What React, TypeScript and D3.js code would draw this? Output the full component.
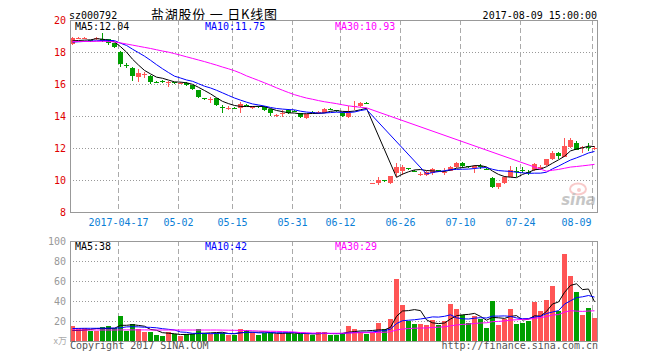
import React from 'react';
import * as d3 from 'd3';

const dates = [
  '2017-04-05','2017-04-06','2017-04-07','2017-04-10','2017-04-11','2017-04-12','2017-04-13','2017-04-14','2017-04-17','2017-04-18',
  '2017-04-19','2017-04-20','2017-04-21','2017-04-24','2017-04-25','2017-04-26','2017-04-27','2017-04-28','2017-05-02','2017-05-03',
  '2017-05-04','2017-05-05','2017-05-08','2017-05-09','2017-05-10','2017-05-11','2017-05-12','2017-05-15','2017-05-16','2017-05-17',
  '2017-05-18','2017-05-19','2017-05-22','2017-05-23','2017-05-24','2017-05-25','2017-05-26','2017-05-31','2017-06-01','2017-06-02',
  '2017-06-05','2017-06-06','2017-06-07','2017-06-08','2017-06-09','2017-06-12','2017-06-13','2017-06-14','2017-06-15','2017-06-16',
  '2017-06-19','2017-06-20','2017-06-21','2017-06-22','2017-06-23','2017-06-26','2017-06-27','2017-06-28','2017-06-29','2017-06-30',
  '2017-07-03','2017-07-04','2017-07-05','2017-07-06','2017-07-07','2017-07-10','2017-07-11','2017-07-12','2017-07-13','2017-07-14',
  '2017-07-17','2017-07-18','2017-07-19','2017-07-20','2017-07-21','2017-07-24','2017-07-25','2017-07-26','2017-07-27','2017-07-28',
  '2017-07-31','2017-08-01','2017-08-02','2017-08-03','2017-08-04','2017-08-07','2017-08-08','2017-08-09',
];

const opens = [
  18.50,18.84,18.84,18.73,18.82,18.83,18.79,18.54,18.02,17.17,
  17.02,16.42,16.63,16.50,16.15,16.17,16.13,16.10,16.06,16.08,
  15.92,15.62,15.10,15.02,15.12,14.56,14.48,14.52,14.50,14.69,
  14.52,14.60,14.58,14.42,14.04,14.15,14.38,14.33,14.17,13.85,
  14.25,14.21,14.21,14.46,14.35,14.21,13.92,14.60,14.62,14.81,
  9.77,9.79,9.98,9.83,10.46,10.54,10.75,10.56,10.35,10.31,
  10.42,10.60,10.50,10.58,10.79,11.04,10.85,10.73,10.85,10.69,
  10.15,9.54,9.79,10.21,10.54,10.60,10.48,10.63,10.81,10.94,
  11.29,11.71,11.46,12.04,12.29,12.02,12.06,11.96,
];
const highs = [
  18.94,18.94,18.94,18.78,18.94,19.17,18.83,18.58,18.08,17.30,
  17.05,16.92,16.78,16.55,16.20,16.25,16.20,16.15,16.15,16.12,
  15.95,15.65,15.15,15.21,15.15,14.69,14.60,14.56,14.90,14.75,
  14.62,14.65,14.62,14.45,14.15,14.38,14.42,14.40,14.20,14.15,
  14.30,14.30,14.50,14.48,14.40,14.25,14.60,14.94,14.87,14.87,
  9.83,10.21,10.02,10.27,11.04,10.94,10.75,10.60,10.48,10.56,
  10.73,10.65,10.73,10.87,11.10,11.15,10.90,10.92,11.00,10.73,
  10.20,9.81,10.23,10.88,10.83,10.79,10.60,11.04,10.96,11.33,
  11.83,11.73,12.60,12.60,12.46,12.13,12.29,12.10,
];
const lows = [
  18.42,18.80,18.80,18.65,18.78,18.65,18.46,18.23,17.08,17.00,
  16.20,16.15,16.38,16.00,16.05,16.08,15.80,16.00,16.00,15.88,
  15.62,15.15,15.00,14.83,14.65,14.17,14.40,14.44,14.20,14.60,
  14.42,14.50,14.33,14.00,13.92,13.96,14.15,14.25,13.88,13.80,
  14.17,14.15,14.17,14.38,14.27,13.96,13.88,14.38,14.58,14.73,
  9.73,9.69,9.90,9.73,10.21,10.31,10.60,10.48,10.27,10.27,
  10.33,10.52,10.31,10.54,10.75,10.73,10.75,10.46,10.67,10.60,
  9.52,9.46,9.75,10.19,10.21,10.46,10.30,10.58,10.60,10.90,
  11.27,11.29,11.42,12.00,11.85,11.71,11.83,11.88,
];
const closes = [
  18.86,18.86,18.86,18.71,18.86,18.71,18.54,18.33,17.23,17.15,
  16.50,16.71,16.65,16.15,16.13,16.15,16.15,16.08,16.08,15.92,
  15.67,15.21,15.08,15.04,14.71,14.54,14.50,14.50,14.75,14.67,
  14.54,14.58,14.38,14.17,14.06,14.17,14.21,14.31,13.92,14.12,
  14.23,14.23,14.46,14.42,14.33,14.00,14.17,14.62,14.83,14.79,
  9.79,10.00,9.96,10.25,10.83,10.79,10.73,10.54,10.38,10.52,
  10.67,10.58,10.52,10.83,11.08,10.88,10.83,10.88,10.83,10.67,
  9.58,9.79,10.21,10.63,10.52,10.58,10.46,11.00,10.83,11.29,
  11.67,11.50,12.13,12.50,11.88,12.04,12.04,11.98,
];
const volumes = [
  15.3,13.3,13.3,10.3,10.3,14.3,15.3,13.3,25.3,10.3,
  17.3,11.7,9.3,9.3,6.0,5.3,9.0,6.7,5.3,6.7,
  7.0,12.3,7.7,7.0,8.3,8.3,6.0,6.3,12.3,11.0,
  8.3,6.3,8.3,8.3,7.0,8.3,8.3,7.0,7.0,7.0,
  6.3,9.0,8.7,6.3,6.3,7.7,15.0,12.0,9.3,7.0,
  9.3,18,12,22,62,36,20,17,17,16,
  21,16,20,37,32,26,18,25,22,13,
  40,16,22,32,17,18,20,39,30,41,
  55,30,87,65,49,26,33,23,
];

// Moving-average values for the first days, whose windows reach back before the visible data
const priceMA5Lead = [18.70, 18.72, 18.74, 18.76];
const priceMA10Lead = [18.62, 18.64, 18.66, 18.68, 18.70, 18.72, 18.73, 18.71, 18.55];
const priceMA30Lead = [
  18.66, 18.66, 18.66, 18.66, 18.67, 18.67, 18.66, 18.63, 18.57, 18.50,
  18.43, 18.36, 18.29, 18.22, 18.14, 18.06, 17.99, 17.90, 17.80, 17.70,
  17.60, 17.50, 17.40, 17.29, 17.18, 17.06, 16.95, 16.83, 16.68,
];
const volMA5Lead = [10.5, 10.5, 11.0, 11.5];
const volMA10Lead = [12.5, 12.6, 12.7, 12.7, 12.7, 12.8, 12.8, 12.9, 13.2];
const volMA30Lead = [
  11.0, 11.0, 11.0, 11.0, 11.0, 11.0, 11.0, 11.0, 11.1, 11.1,
  11.1, 11.1, 11.1, 11.0, 11.0, 11.0, 11.0, 11.0, 11.0, 11.0,
  11.0, 11.0, 11.0, 11.0, 11.0, 10.9, 10.8, 10.7, 10.6,
];

const priceTicks = [8, 10, 12, 14, 16, 18, 20];
const volumeTicks = [20, 40, 60, 80, 100];
const tickDates = ['2017-04-17','2017-05-02','2017-05-15','2017-05-31','2017-06-12','2017-06-26','2017-07-10','2017-07-24','2017-08-09'];
const tickLabels = ['2017-04-17','05-02','05-15','05-31','06-12','06-26','07-10','07-24','08-09'];
const exRightDate = '2017-06-19';
const maPeriods = [5, 10, 30];
const priceLegend = ['MA5:12.04', 'MA10:11.75', 'MA30:10.93'];
const volumeLegend = ['MA5:38', 'MA10:42', 'MA30:29'];
const stockCode = 'sz000792';
const title = '盐湖股份 一 日K线图';
const timestamp = '2017-08-09 15:00:00';
const copyright = 'Copyright 2017 SINA.COM';
const siteUrl = 'http://finance.sina.com.cn';

const MONO = '"DejaVu Sans Mono", "Liberation Mono", monospace';
const RED = '#ff5555';
const GREEN = '#009f00';
const MA_COLORS = ['#000000', '#0000ff', '#ff00ff'];
const LEGEND_X = [75, 205, 335];

const L = 70, R = 597;
const PT = 20, PB = 212;
const VT = 241, VB = 341;

function movingAverage(values: number[], n: number, resetAt: number, lead: number[]) {
  return values.map((_, i) => {
    const segStart = resetAt >= 0 && i >= resetAt ? resetAt : 0;
    const from = i - n + 1;
    if (from < segStart) {
      if (segStart > 0) return null;
      return lead[i] ?? null;
    }
    return d3.mean(values.slice(from, i + 1)) as number;
  });
}

export default function App() {
  const x = d3.scaleBand<string>().domain(dates).range([L, L + 6 * dates.length]).paddingInner(0).paddingOuter(0);
  const yP = d3.scaleLinear().domain([8, 20]).range([PB, PT]);
  const yV = d3.scaleLinear().domain([0, 100]).range([VB, VT]);
  const gap = dates.indexOf(exRightDate);
  const cx = (i: number) => (x(dates[i]) as number) + 2.5;

  const priceLeads = [priceMA5Lead, priceMA10Lead, priceMA30Lead];
  const volLeads = [volMA5Lead, volMA10Lead, volMA30Lead];
  const priceMAs = maPeriods.map((n, k) => movingAverage(closes, n, gap, priceLeads[k]));
  const volMAs = maPeriods.map((n, k) => movingAverage(volumes, n, -1, volLeads[k]));

  const lineP = d3.line<[number, number]>().x((d) => d[0]).y((d) => d[1]);
  const toPts = (arr: (number | null)[], y: (v: number) => number) =>
    arr.map((v, i) => (v == null ? null : [cx(i), y(v)] as [number, number])).filter((p) => p != null) as [number, number][];

  const isUp = (i: number) => closes[i] >= opens[i];

  return (
    <svg width={660} height={360} style={{ position: 'absolute', left: 0, top: 0, background: '#fff' }}>
      <rect x={0} y={0} width={660} height={360} fill="#fff" />
      {/* header */}
      <text x={69} y={19} fontFamily={MONO} fontSize={10} fill="#000">{stockCode}</text>
      <text x={151} y={18.5} fontFamily='"Noto Sans CJK SC", sans-serif' fontSize={13} fill="#000" textLength={126} lengthAdjust="spacing">{title}</text>
      <text x={597} y={19} fontFamily={MONO} fontSize={10} fill="#000" textAnchor="end">{timestamp}</text>

      {/* horizontal grid */}
      {priceTicks.filter((t) => t > 8 && t < 20).map((t) => (
        <line key={'pg' + t} x1={L} x2={R} y1={Math.round(yP(t)) + 0.5} y2={Math.round(yP(t)) + 0.5} stroke="#999" strokeDasharray="1,2" />
      ))}
      {volumeTicks.filter((t) => t < 100).map((t) => (
        <line key={'vg' + t} x1={L} x2={R} y1={Math.round(yV(t)) + 0.5} y2={Math.round(yV(t)) + 0.5} stroke="#999" strokeDasharray="1,2" />
      ))}
      {/* vertical dashed */}
      {tickDates.map((d) => {
        const xx = (x(d) as number) + 0.5;
        return (
          <g key={'vd' + d}>
            <line x1={xx} x2={xx} y1={PT} y2={PB} stroke="#aaa" strokeDasharray="5,3" />
            <line x1={xx} x2={xx} y1={VT} y2={VB} stroke="#aaa" strokeDasharray="5,3" />
          </g>
        );
      })}

      {/* watermark */}
      <g opacity={0.55}>
        <ellipse cx={578} cy={189} rx={8} ry={5.5} fill="none" stroke="#f4a0a0" strokeWidth={2} />
        <circle cx={579} cy={190} r={2} fill="#f4a0a0" />
        <text x={596} y={205} fontFamily='"DejaVu Sans", sans-serif' fontSize={15} fontWeight="bold" fontStyle="italic" fill="#999" textAnchor="end">sina</text>
      </g>

      {/* candles */}
      {dates.map((d, i) => {
        const xl = x(d) as number;
        const col = isUp(i) ? RED : GREEN;
        const top = Math.round(yP(Math.max(opens[i], closes[i])));
        const bot = Math.round(yP(Math.min(opens[i], closes[i])));
        return (
          <g key={'c' + d}>
            <rect x={xl + 2} y={Math.round(yP(highs[i]))} width={1} height={Math.max(1, Math.round(yP(lows[i])) - Math.round(yP(highs[i])))} fill={col} />
            <rect x={xl} y={top} width={5} height={Math.max(1, bot - top)} fill={col} />
          </g>
        );
      })}
      {priceMAs.map((arr, k) => (
        <path key={'pma' + k} d={lineP(toPts(arr, yP)) || ''} fill="none" stroke={MA_COLORS[k]} strokeWidth={1} />
      ))}

      {/* volume bars */}
      {dates.map((d, i) => {
        const xl = x(d) as number;
        const top = Math.round(yV(volumes[i]));
        return <rect key={'v' + d} x={xl} y={top} width={5} height={VB - top} fill={isUp(i) ? RED : GREEN} />;
      })}
      {volMAs.map((arr, k) => (
        <path key={'vma' + k} d={lineP(toPts(arr, yV)) || ''} fill="none" stroke={MA_COLORS[k]} strokeWidth={1} />
      ))}

      {/* borders */}
      <rect x={L + 0.5} y={PT + 0.5} width={R - L} height={PB - PT} fill="none" stroke="#999" />
      <rect x={L + 0.5} y={VT + 0.5} width={R - L} height={VB - VT} fill="none" stroke="#999" />

      {/* legends */}
      {priceLegend.map((t, k) => (
        <text key={'pl' + k} x={LEGEND_X[k]} y={30} fontFamily={MONO} fontSize={10} fill={MA_COLORS[k]}>{t}</text>
      ))}
      {volumeLegend.map((t, k) => (
        <text key={'vl' + k} x={LEGEND_X[k]} y={250} fontFamily={MONO} fontSize={10} fill={MA_COLORS[k]}>{t}</text>
      ))}

      {/* price axis labels */}
      {priceTicks.map((t) => (
        <text key={'pt' + t} x={66} y={yP(t)} dy="0.35em" fontFamily={MONO} fontSize={10} fill="#e00000" textAnchor="end">{t}</text>
      ))}
      {/* volume axis labels */}
      {volumeTicks.map((t) => (
        <text key={'vt' + t} x={66} y={yV(t)} dy="0.35em" fontFamily={MONO} fontSize={10} fill="#999" textAnchor="end">{t}</text>
      ))}
      <text x={67} y={VB} dy="0.3em" fontFamily='"Noto Sans CJK SC", sans-serif' fontSize={9} fill="#aaa" textAnchor="end">x万</text>

      {/* date labels */}
      {tickDates.map((d, k) => {
        const last = k === tickDates.length - 1;
        const xx = (x(d) as number) + 0.5;
        return (
          <text key={'dl' + d} x={last ? xx - 1 : xx} y={222} dy="0.35em" fontFamily={MONO} fontSize={10} fill="#0a7ed6" textAnchor={last ? 'end' : 'middle'}>{tickLabels[k]}</text>
        );
      })}

      {/* footer */}
      <text x={70} y={349} fontFamily={MONO} fontSize={10} fill="#555">{copyright}</text>
      <text x={598} y={349} fontFamily={MONO} fontSize={10} fill="#555" textAnchor="end">{siteUrl}</text>
    </svg>
  );
}
